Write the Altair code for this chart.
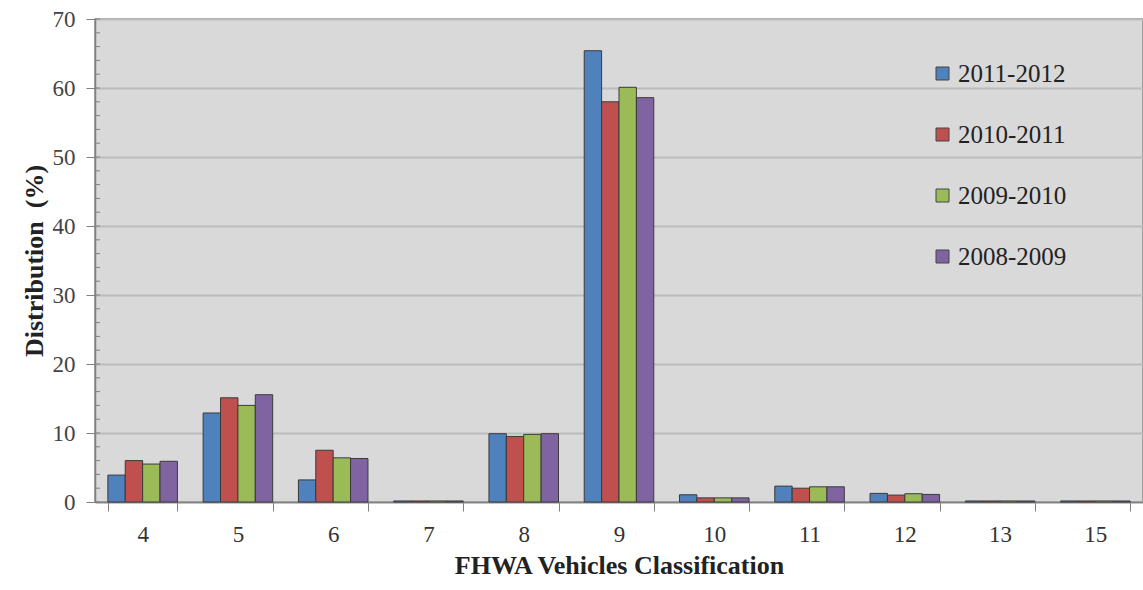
import altair as alt
import pandas as pd

categories = ["4", "5", "6", "7", "8", "9", "10", "11", "12", "13", "15"]
series_names = ["2011-2012", "2010-2011", "2009-2010", "2008-2009"]
s_2011_2012 = [3.9, 12.9, 3.2, 0.15, 9.9, 65.4, 1.05, 2.3, 1.25, 0.15, 0.15]
s_2010_2011 = [6.0, 15.1, 7.5, 0.15, 9.5, 58.0, 0.6, 2.0, 1.0, 0.15, 0.15]
s_2009_2010 = [5.5, 14.0, 6.4, 0.15, 9.8, 60.1, 0.6, 2.2, 1.2, 0.15, 0.15]
s_2008_2009 = [5.9, 15.55, 6.3, 0.15, 9.9, 58.6, 0.6, 2.2, 1.1, 0.15, 0.15]
colors = ["#4f81bd", "#c0504d", "#9bbb59", "#8064a2"]
minor_ticks = list(range(0, 71, 2))

rows = []
for name, vals in zip(series_names, [s_2011_2012, s_2010_2011, s_2009_2010, s_2008_2009]):
    for c, v in zip(categories, vals):
        rows.append({"cls": c, "period": name, "value": v})
df = pd.DataFrame(rows)
minor_df = pd.DataFrame({"v": minor_ticks})

FONT = "Liberation Serif"

yscale = alt.Scale(domain=[0, 70], nice=False)

bars = alt.Chart(df).mark_bar(stroke="#3a3a3a", strokeWidth=1).encode(
    x=alt.X("cls:N", sort=categories,
            scale=alt.Scale(paddingInner=0.27, paddingOuter=0.135),
            axis=alt.Axis(title="FHWA Vehicles Classification", labelAngle=0,
                          tickBand="extent", tickSize=9, tickColor="#808080",
                          domainColor="#808080", domainWidth=1.5,
                          labelFont=FONT, labelFontSize=23, labelColor="#333333",
                          labelPadding=12,
                          titleFont=FONT, titleFontSize=26, titleFontWeight="bold",
                          titleColor="#222222", titlePadding=6)),
    xOffset=alt.XOffset("period:N", sort=series_names),
    y=alt.Y("value:Q", scale=yscale,
            axis=alt.Axis(title="Distribution\u00a0\u00a0(%)", values=list(range(0, 71, 10)),
                          tickSize=9, tickColor="#808080", domainColor="#808080",
                          domainWidth=1.5, gridColor="#bcbcbc", gridWidth=2,
                          labelFont=FONT, labelFontSize=23, labelColor="#444444",
                          labelPadding=11,
                          titleFont=FONT, titleFontSize=26, titleFontWeight="bold",
                          titleColor="#222222", titlePadding=5)),
    color=alt.Color("period:N", sort=series_names,
                    scale=alt.Scale(domain=series_names, range=colors),
                    legend=alt.Legend(title=None, orient="none", legendX=835, legendY=42,
                                      symbolType="square", symbolSize=169,
                                      symbolStrokeColor="#444444", symbolStrokeWidth=1,
                                      labelFont=FONT, labelFontSize=25, labelColor="#222222",
                                      rowPadding=35, labelOffset=3)),
)

minor = alt.Chart(minor_df).mark_rule(color="#808080", strokeWidth=1).encode(
    y=alt.Y("v:Q", scale=yscale),
    x=alt.value(0),
    x2=alt.value(5),
)

chart = alt.layer(bars, minor).properties(
    width=1048, height=483,
    autosize=alt.AutoSizeParams(type="none"),
    padding={"left": 95, "top": 19, "right": 0, "bottom": 88},
    background="white",
).configure_view(fill="#d9d9d9", stroke="#8a8a8a", strokeWidth=1.5)

chart.save("out.html", embed_options={"renderer": "svg", "actions": False})
